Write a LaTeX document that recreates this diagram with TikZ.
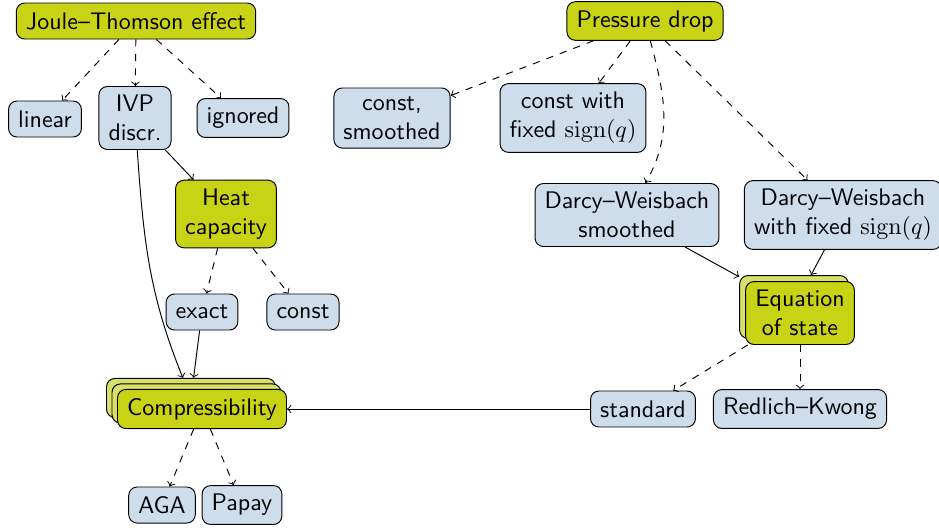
\documentclass[tikz,border=0pt]{standalone}
\definecolor{bluefill}{RGB}{205,221,235}
\definecolor{yellowfill}{RGB}{200,211,22}
\definecolor{yellowlight}{RGB}{216,224,105}
\begin{document}
\begin{tikzpicture}[x=0.41667pt,y=-0.41667pt, font=\sffamily,
  box/.style={draw=black, rounded corners=3.5pt, align=center, inner xsep=4pt, inner ysep=3.6pt, minimum height=15pt},
  bluebox/.style={box, fill=bluefill},
  yellowbox/.style={box, fill=yellowfill},
  shadowbox/.style={box, fill=yellowlight},
  opt/.style={->, dashed},
  link/.style={->}]
\useasboundingbox (0,0) rectangle (939,529);

% left part
\node[yellowbox] (jt) at (136,21) {Joule--Thomson effect};
\node[bluebox] (linear) at (45,119) {linear};
\node[bluebox] (ivp) at (135,118) {IVP\\discr.};
\node[bluebox] (ignored) at (243,118) {ignored};
\node[yellowbox] (heat) at (226,214) {Heat\\capacity};
\node[bluebox] (exact) at (202,312) {exact};
\node[bluebox] (constc) at (303,312) {const};
\node[shadowbox] (comp2) at (191,398) {\phantom{Compressibility}};
\node[shadowbox] (comp1) at (196.5,403.5) {\phantom{Compressibility}};
\node[yellowbox] (comp) at (202,409) {Compressibility};
\node[bluebox] (aga) at (162,505) {AGA};
\node[bluebox] (papay) at (242,505) {Papay};

% right part
\node[yellowbox] (pd) at (645,21) {Pressure drop};
\node[bluebox] (cs) at (392,118) {const,\\smoothed};
\node[bluebox] (cwf) at (573,118) {const with\\fixed $\mathrm{sign}(q)$};
\node[bluebox] (dws) at (627,215) {Darcy--Weisbach\\smoothed};
\node[bluebox] (dwf) at (843,215) {Darcy--Weisbach\\with fixed $\mathrm{sign}(q)$};
\node[shadowbox] (eos1) at (794,307) {\phantom{Equation}\\\phantom{of state}};
\node[yellowbox] (eos) at (800,313) {Equation\\of state};
\node[bluebox] (standard) at (643,409) {standard};
\node[bluebox] (rk) at (800,409) {Redlich--Kwong};

% connectors
\draw[opt] (jt) -- (linear);
\draw[opt] (jt) -- (ivp);
\draw[opt] (jt) -- (ignored);
\draw[link] (ivp) -- (heat);
\draw[link] (ivp) to[out=-86,in=112] (comp2);
\draw[opt] (heat) -- (exact);
\draw[opt] (heat) -- (constc);
\draw[link] (exact) -- (comp2);
\draw[opt] (comp) -- (aga);
\draw[opt] (comp) -- (papay);
\draw[link] (standard) -- (comp);

\draw[opt] (pd) -- (cs);
\draw[opt] (pd) -- (cwf);
\draw[opt] (pd) to[out=-75,in=60] (dws);
\draw[opt] (pd) -- (dwf);
\draw[link] (dws) -- (eos1);
\draw[link] (dwf) -- (eos1);
\draw[opt] (eos) -- (standard);
\draw[opt] (eos) -- (rk);
\end{tikzpicture}
\end{document}
